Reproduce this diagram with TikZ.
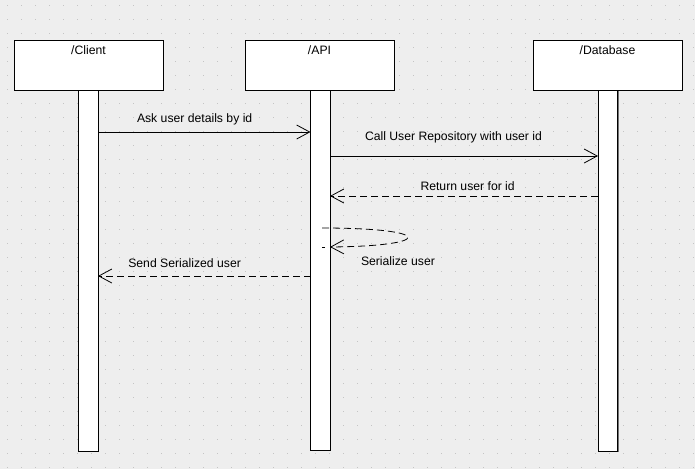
\documentclass[tikz,border=0pt]{standalone}
\usepackage{fontspec}
\setmainfont{Liberation Sans}
\usetikzlibrary{arrows.meta,shadows}
\definecolor{canvasbg}{HTML}{EEEEEE}
\definecolor{griddot}{HTML}{C4C4C4}
\begin{document}
\begin{tikzpicture}[x=1pt,y=-1pt,
  every node/.style={font=\fontsize{12.2}{14}\selectfont, inner sep=0pt, outer sep=0pt},
  headbox/.style={draw=black, fill=white, line width=1pt, anchor=north west,
    minimum width=149pt, minimum height=50pt,
    drop shadow={shadow xshift=1.2pt, shadow yshift=-1.2pt, fill=black!55, opacity=1}},
  lifeline/.style={draw=black, fill=white, line width=1pt, anchor=north west,
    minimum width=19.5pt,
    drop shadow={shadow xshift=1.2pt, shadow yshift=-1.2pt, fill=black!55, opacity=1}},
  tip/.style={-{Straight Barb[length=13pt,width=14pt,line width=0.8pt]}},
  callmsg/.style={draw=black, line width=0.8pt, tip},
  replymsg/.style={draw=black, line width=0.8pt, dash pattern=on 7pt off 4pt, tip},
  msglabel/.style={anchor=base west}]

% canvas and dotted grid
\fill[canvasbg] (0,0) rectangle (695,469);
\foreach \i in {0,...,49}
  \foreach \j in {0,...,33}
    \fill[griddot] (6.5+14*\i, 4.5+14*\j) rectangle ++(1.4,1.4);

% header boxes
\node[headbox] (client) at (14,40) {};
\node[headbox] (api) at (245,40) {};
\node[headbox] (db) at (533,40) {};
\node[anchor=base] (clientname) at (client.north |- 0,54) {/Client};
\node[anchor=base] (apiname) at (api.north |- 0,54) {/API};
\node[anchor=base] (dbname) at (db.north |- 0,54) {/Database};

% lifelines
\node[lifeline, minimum height=361pt] (clientline) at (78.5,90) {};
\node[lifeline, minimum height=360pt] (apiline) at (310.5,90) {};
\node[lifeline, minimum height=361pt] (dbline) at (598,90) {};

% message heights
\coordinate (m1) at (0,132);
\coordinate (m2) at (0,156);
\coordinate (m3) at (0,196);
\coordinate (m4) at (0,276);
\coordinate (selfout) at (322,228);
\coordinate (selfin) at (apiline.east |- 0,247);
\coordinate (selfend) at (322,247);

% messages
\draw[callmsg] (clientline.east |- m1) -- (apiline.west |- m1);
\draw[callmsg] (apiline.east |- m2) -- (dbline.west |- m2);
\draw[replymsg] (dbline.west |- m3) -- (apiline.east |- m3);
\draw[replymsg] (selfout) .. controls (435,228) and (435,246) .. (selfin);
\draw[black, line width=0.8pt] (selfin) ++(-5,0) -- (selfend);
\draw[replymsg] (apiline.west |- m4) -- (clientline.east |- m4);

% message labels
\node[msglabel] (l1) at (137,122.7) {Ask user details by id};
\node[msglabel] (l2) at (365,140) {Call User Repository with user id};
\node[msglabel] (l3) at (420.5,190.7) {Return user for id};
\node[msglabel] (l4) at (361,265) {Serialize user};
\node[msglabel] (l5) at (128.3,267.3) {Send Serialized user};
\end{tikzpicture}
\end{document}
